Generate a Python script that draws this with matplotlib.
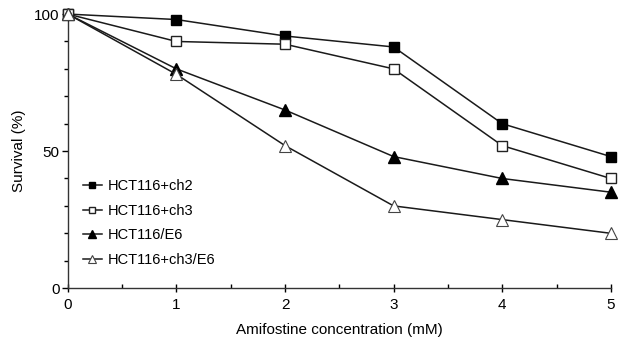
import matplotlib
matplotlib.use("Agg")
import matplotlib.pyplot as plt
from matplotlib.ticker import MultipleLocator

plt.rcParams['font.family'] = ['Liberation Sans', 'DejaVu Sans']

conc = [0, 1, 2, 3, 4, 5]
ch2 = [100, 98, 92, 88, 60, 48]
ch3 = [100, 90, 89, 80, 52, 40]
e6 = [100, 80, 65, 48, 40, 35]
ch3e6 = [100, 78, 52, 30, 25, 20]
labels = ["HCT116+ch2", "HCT116+ch3", "HCT116/E6", "HCT116+ch3/E6"]

fig = plt.figure(figsize=(6.22, 3.43), dpi=100)
ax = fig.add_axes([0.109, 0.160, 0.873, 0.799])

lc = '#1a1a1a'
ax.plot(conc, ch2, color=lc, lw=1.1, marker='s', ms=7.5, mfc='black', mec='black', label=labels[0], zorder=3)
ax.plot(conc, ch3, color=lc, lw=1.1, marker='s', ms=7.5, mfc='white', mec='#222222', mew=1.0, label=labels[1], zorder=3)
ax.plot(conc, e6, color=lc, lw=1.1, marker='^', ms=8, mfc='black', mec='black', label=labels[2], zorder=3)
ax.plot(conc, ch3e6, color=lc, lw=1.1, marker='^', ms=8, mfc='white', mec='#444444', mew=0.8, label=labels[3], zorder=3)

ax.set_xlim(0, 5)
ax.set_ylim(0, 100)
ax.set_xticks(conc)
ax.set_yticks([0, 50, 100])
ax.xaxis.set_minor_locator(MultipleLocator(0.5))
ax.yaxis.set_minor_locator(MultipleLocator(10))
ax.tick_params(axis='x', which='major', direction='inout', length=6, width=1, labelsize=11, pad=4)
ax.tick_params(axis='x', which='minor', direction='in', length=3, width=1)
ax.tick_params(axis='y', which='major', direction='out', length=4, width=1, labelsize=11, pad=2)
ax.tick_params(axis='y', which='minor', direction='out', length=3, width=1)
for s in ['top', 'right']:
    ax.spines[s].set_visible(False)
for s in ['left', 'bottom']:
    ax.spines[s].set_linewidth(1.0)
    ax.spines[s].set_color('#333333')
for sp in ax.spines.values():
    sp.set_clip_on(False)

ax.set_xlabel("Amifostine concentration (mM)", fontsize=11, labelpad=8)
ax.set_ylabel("Survival (%)", fontsize=11, labelpad=6)

ax.legend(loc='lower left', bbox_to_anchor=(0.003, 0.03), frameon=False, fontsize=10.5,
          markerscale=0.65, handlelength=1.3, handletextpad=0.45, labelspacing=0.72)

for line in ax.lines:
    line.set_clip_on(False)

fig.savefig("out.png", dpi=100)
